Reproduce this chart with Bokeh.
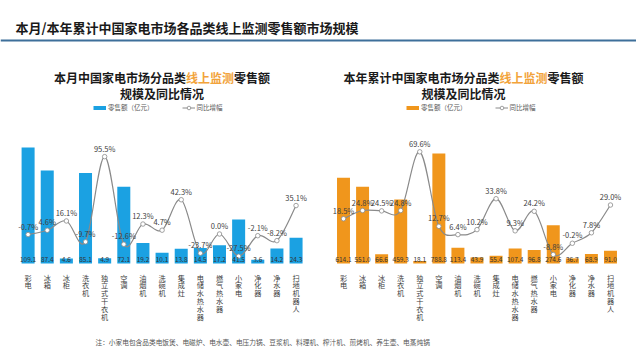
import numpy as np
from bokeh.plotting import figure
from bokeh.models import Range1d, ColumnDataSource, LabelSet, Label, Span, Legend, LegendItem
from bokeh.core.properties import value
from bokeh.embed import file_html
from bokeh.resources import INLINE

# ---------------- data ----------------
categories = ["彩电", "冰箱", "冰柜", "洗衣机", "独立式干衣机", "空调", "油烟机", "洗碗机",
              "集成灶", "电储水热水器", "燃气热水器", "小家电", "净化器", "净水器", "扫地机器人"]
month_sales = [109.1, 87.4, 4.6, 85.1, 4.9, 72.1, 19.2, 10.1, 13.8, 14.5, 17.2, 41.5, 3.6, 14.2, 24.3]
month_growth = [-0.7, 4.6, 16.1, -9.7, 95.5, -12.6, 12.3, 4.7, 42.3, -23.7, 0.0, -27.5, -2.1, -8.2, 35.1]
ytd_sales = [614.1, 551.0, 66.6, 459.3, 18.1, 788.8, 113.4, 43.9, 55.4, 107.4, 96.8, 274.6, 36.7, 68.9, 91.0]
ytd_growth = [18.5, 24.8, 24.5, 24.8, 69.6, 12.7, 6.4, 10.2, 33.8, 9.3, 24.2, -8.8, -0.2, 7.8, 29.0]

main_title = "本月/本年累计中国家电市场各品类线上监测零售额市场规模"
left_title = ["本月中国家电市场分品类", "线上监测", "零售额"]
right_title = ["本年累计中国家电市场分品类", "线上监测", "零售额"]
title_line2 = "规模及同比情况"
legend_bar_label = "零售额（亿元）"
legend_line_label = "同比增幅"
footnote = "注：小家电包含品类电饭煲、电磁炉、电水壶、电压力锅、豆浆机、料理机、榨汁机、煎烤机、养生壶、电蒸炖锅"

# ---------------- styling ----------------
FONT = "Noto Sans CJK SC"
BLUE = "#1ba1e2"
ORANGE = "#f0961c"
HILITE = "#f2a33a"
GRAY = "#8a8a8a"
TXT = "#333333"
W, H = 636, 352
OX, OY = 0, 0   # default ranges are in page pixel coordinates

p = figure(width=W, height=H, x_range=Range1d(OX, OX + W), y_range=Range1d(OY + H, OY),
           output_backend="svg", toolbar_location=None,
           x_axis_location=None, y_axis_location=None, min_border=0)
p.grid.visible = False
p.outline_line_color = None
p.background_fill_color = "white"
p.border_fill_color = "white"

# header
p.add_layout(Label(x=15, y=27, text=main_title, text_font=FONT, text_font_size="13px",
                   text_font_style="bold", text_color="#1a1a1a", text_baseline="middle"))
p.add_layout(Span(location=40, dimension="width", line_color="#3d6f9a", line_width=2))

xr, yr = {}, {}
panels = [
    # name, sales, growth, color, title pieces, title center x, first bar x, step,
    # baseline y, px/unit bar, zero-growth y, px/% growth, legend x
    ("L", month_sales, month_growth, BLUE, left_title, 161.5, 27.6, 19.14, 263.0, 1.063, 233.5, 0.81, 93),
    ("R", ytd_sales, ytd_growth, ORANGE, right_title, 463.0, 343.0, 19.07, 263.0, 0.1395, 242.5, 1.31, 406),
]

nan_x, nan_y = [np.nan], [np.nan]   # legend proxies (draw nothing in the plot)

for (name, sales, growth, color, tpieces, tcx, x0, step, base, kb, gz, kg, lx) in panels:
    xn, bn, gn = name + "x", name + "b", name + "g"
    xr[xn] = Range1d((OX - x0) / step, (OX + W - x0) / step)
    yr[bn] = Range1d((base - (OY + H)) / kb, (base - OY) / kb)
    yr[gn] = Range1d((gz - (OY + H)) / kg, (gz - OY) / kg)

    idx = np.arange(len(categories), dtype=float)
    src = ColumnDataSource(dict(
        i=idx, sales=sales, growth=growth,
        sales_txt=[f"{v:.1f}" for v in sales],
        growth_txt=[f"{v:.1f}%" for v in growth],
        cat_v=["\n".join(list(c)) for c in categories],
    ))

    p.vbar(x="i", top="sales", bottom=0, width=0.68, source=src, fill_color=color,
           line_color=None, x_range_name=xn, y_range_name=bn)

    # smooth growth line (Catmull-Rom as cubic Bezier segments)
    g = np.asarray(growth, dtype=float)
    xp = np.concatenate([[idx[0]], idx, [idx[-1]]])
    gp = np.concatenate([[g[0]], g, [g[-1]]])
    n = len(idx)
    seg = dict(
        x0=idx[:-1], y0=g[:-1], x1=idx[1:], y1=g[1:],
        cx0=idx[:-1] + (idx[1:] - xp[:n - 1]) / 6.0,
        cy0=g[:-1] + (g[1:] - gp[:n - 1]) / 6.0,
        cx1=idx[1:] - (xp[3:] - idx[:-1]) / 6.0,
        cy1=g[1:] - (gp[3:] - g[:-1]) / 6.0,
    )
    p.bezier(x0="x0", y0="y0", x1="x1", y1="y1", cx0="cx0", cy0="cy0", cx1="cx1", cy1="cy1",
             source=ColumnDataSource(seg), line_color=GRAY, line_width=1.2,
             x_range_name=xn, y_range_name=gn)
    pts = p.scatter(x="i", y="growth", source=src, marker="circle", size=4.5,
                    fill_color="white", line_color=GRAY, line_width=0.8,
                    x_range_name=xn, y_range_name=gn)

    p.add_layout(LabelSet(x="i", y=0, text="sales_txt", source=src, y_offset=4,
                          text_align="center", text_baseline="middle",
                          text_font=value(FONT), text_font_size="6.5px", text_color=TXT,
                          x_range_name=xn, y_range_name=bn))
    p.add_layout(LabelSet(x="i", y=0, text="cat_v", source=src, y_offset=-9,
                          text_align="center", text_baseline="top", text_line_height=0.78,
                          text_font=value(FONT), text_font_size="7.2px", text_color="#404040",
                          x_range_name=xn, y_range_name=bn))
    p.add_layout(LabelSet(x="i", y="growth", text="growth_txt", source=src, y_offset=8.5,
                          text_align="center", text_baseline="middle",
                          text_font=value(FONT), text_font_size="7.5px", text_color="#404040",
                          x_range_name=xn, y_range_name=gn))

    # sub-title: two lines, with highlighted part
    total = sum(len(t) for t in tpieces)
    fs = 12
    sx = tcx - total * fs / 2.0
    cols = ["#1a1a1a", HILITE, "#1a1a1a"]
    for piece, c in zip(tpieces, cols):
        p.add_layout(Label(x=sx, y=77, text=piece, text_font=FONT, text_font_size=f"{fs}px",
                           text_font_style="bold", text_color=c, text_baseline="middle"))
        sx += len(piece) * fs
    p.add_layout(Label(x=tcx, y=92.5, text=title_line2, text_font=FONT, text_font_size=f"{fs}px",
                       text_font_style="bold", text_color="#1a1a1a", text_baseline="middle",
                       text_align="center"))

    # legend
    proxy_bar = p.line(x=nan_x, y=nan_y, line_color=color, line_width=4)
    proxy_line = p.line(x=nan_x, y=nan_y, line_color=GRAY, line_width=1)
    ly = 107.5
    leg = Legend(items=[LegendItem(label=legend_bar_label, renderers=[proxy_bar]),
                        LegendItem(label=legend_line_label, renderers=[proxy_line, pts])],
                 orientation="horizontal", location=(lx - OX, H - (ly - OY) - 4.5),
                 glyph_width=13, glyph_height=9, label_height=9, label_standoff=2,
                 spacing=28, padding=0, margin=0,
                 label_text_font=FONT, label_text_font_size="6.5px", label_text_color="#595959",
                 border_line_alpha=0, background_fill_alpha=0)
    p.add_layout(leg)

p.extra_x_ranges = xr
p.extra_y_ranges = yr

p.add_layout(Label(x=95, y=341, text=footnote, text_font=FONT, text_font_size="6.7px",
                   text_color="#555555", text_baseline="middle"))

open("out.html", "w").write(file_html(p, INLINE))
